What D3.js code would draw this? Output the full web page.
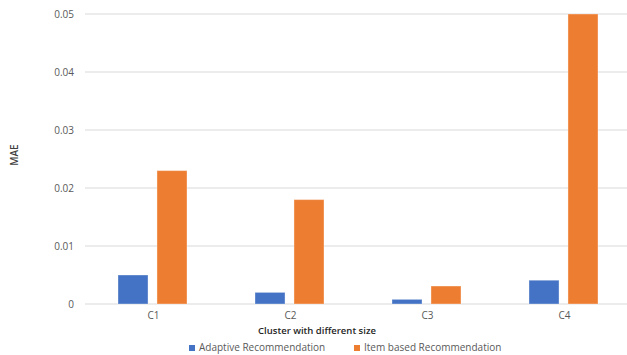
<!DOCTYPE html>
<html><head><meta charset="utf-8">
<script src="https://cdn.jsdelivr.net/npm/d3@7"></script>
<style>body{margin:0;background:#fff}svg{display:block}text{font-family:"Open Sans","Liberation Sans",sans-serif}</style>
</head><body>
<svg id="c" width="627" height="355"></svg>
<script>
const categories = ["C1","C2","C3","C4"];
const seriesNames = ["Adaptive Recommendation","Item based Recommendation"];
const adaptive = [0.005,0.002,0.0008,0.0041];
const itemBased = [0.023,0.018,0.0031,0.05];
const yTicks = [0,0.01,0.02,0.03,0.04,0.05];
const colors = ["#4472C4","#ED7D31"];

const svg = d3.select("#c");
const x = d3.scaleBand().domain(categories).range([85,633]);
const x1 = d3.scaleBand().domain([0,1]).range([33,102]).paddingInner(0.23);
const y = d3.scaleLinear().domain([0,0.05]).range([304,14]);

svg.append("g").selectAll("line").data(yTicks).join("line")
  .attr("x1",85).attr("x2",627).attr("y1",d=>y(d)).attr("y2",d=>y(d))
  .attr("stroke","#d9d9d9").attr("stroke-width",1);

const yAxis = svg.append("g").attr("transform","translate(85,0)")
  .call(d3.axisLeft(y).tickValues(yTicks).tickSize(0).tickPadding(11).tickFormat(d=>d===0?"0":d3.format(".2f")(d)));
yAxis.select(".domain").remove();
yAxis.selectAll("text").attr("fill","#595959").style("font-size","10px");

const xAxis = svg.append("g").attr("transform","translate(0,304)")
  .call(d3.axisBottom(x).tickSize(0).tickPadding(8));
xAxis.select(".domain").remove();
xAxis.selectAll("text").attr("fill","#595959").style("font-size","10px");

const data = [adaptive,itemBased];
data.forEach((vals,si)=>{
  svg.append("g").selectAll("rect").data(vals).join("rect")
    .attr("x",(d,i)=>x(categories[i])+x1(si))
    .attr("width",x1.bandwidth())
    .attr("y",d=>y(d)).attr("height",d=>y(0)-y(d))
    .attr("fill",colors[si]).attr("stroke","#ffffff").attr("stroke-opacity",0.35).attr("stroke-width",1);
});

svg.append("text").attr("transform","translate(18,155) rotate(-90)")
  .attr("text-anchor","middle").attr("fill","#404040").style("font-size","10px").style("font-weight","600").text("MAE");
svg.append("text").attr("x",317).attr("y",334).attr("text-anchor","middle")
  .attr("fill","#262626").style("font-size","9.5px").style("font-weight","600").text("Cluster with different size");

const legX = [189,354];
seriesNames.forEach((n,i)=>{
  svg.append("rect").attr("x",legX[i]).attr("y",345).attr("width",6).attr("height",6).attr("fill",colors[i]);
  svg.append("text").attr("x",legX[i]+10).attr("y",351).attr("fill","#595959").style("font-size","10px").text(n);
});
</script>
</body></html>
